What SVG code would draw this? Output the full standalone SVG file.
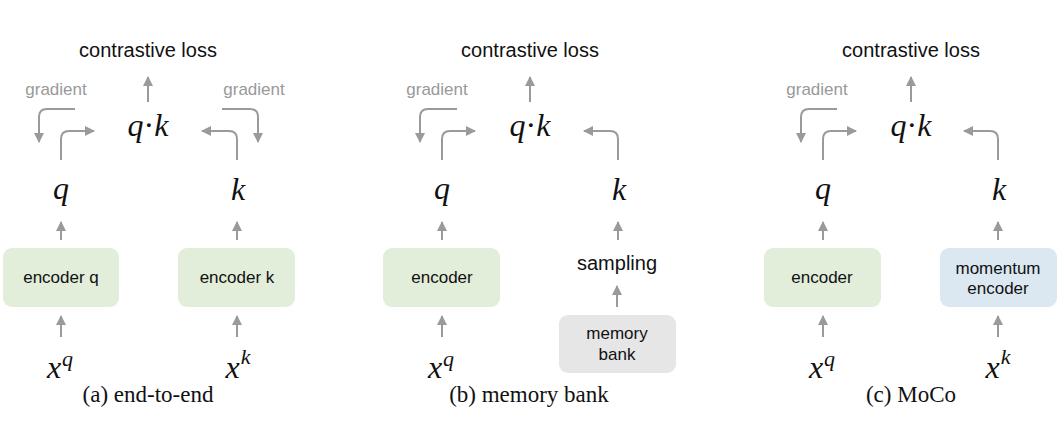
<svg xmlns="http://www.w3.org/2000/svg" width="1060" height="444" viewBox="0 0 1060 444">
<style>
.sans{font-family:"Liberation Sans",Arial,sans-serif;fill:#111;text-anchor:middle}
.big{font-size:20px}
.box{font-size:17px}
.grad{font-family:"Liberation Sans",Arial,sans-serif;font-size:17px;fill:#999;text-anchor:middle}
.math{font-family:"Liberation Serif","Times New Roman",serif;font-style:italic;font-size:32px;fill:#111;text-anchor:middle}
.sup{font-size:22px}
.cap{font-family:"Liberation Serif","Times New Roman",serif;font-size:23px;fill:#111;text-anchor:middle}
.arr{fill:none;stroke:#9a9a9a;stroke-width:2;marker-end:url(#ah)}
.green{fill:#e2edda}
.gray{fill:#e6e6e6}
.blue{fill:#dbe7f1}
</style>
<defs>
<marker id="ah" markerUnits="userSpaceOnUse" markerWidth="11" markerHeight="11" refX="9" refY="5" orient="auto">
<path d="M0,0 L10,5 L0,10 z" fill="#9a9a9a"/>
</marker>
</defs>

<g id="connectors">
<path class="arr" d="M148,102 V77"/>
<path class="arr" d="M75,109 H47 Q39,109 39,117 V142"/>
<path class="arr" d="M61,160 V139 Q61,131 69,131 H94"/>
<path class="arr" d="M237,160 V139 Q237,131 229,131 H202"/>
<path class="arr" d="M222,109 H250 Q258,109 258,117 V142"/>
<path class="arr" d="M61,240 V222"/>
<path class="arr" d="M237,240 V222"/>
<path class="arr" d="M61,337 V316"/>
<path class="arr" d="M237,337 V316"/>
<path class="arr" d="M530,102 V77"/>
<path class="arr" d="M457,109 H428 Q420,109 420,117 V142"/>
<path class="arr" d="M442,160 V139 Q442,131 450,131 H475"/>
<path class="arr" d="M618,160 V139 Q618,131 610,131 H584"/>
<path class="arr" d="M442,240 V222"/>
<path class="arr" d="M618,240 V222"/>
<path class="arr" d="M442,337 V316"/>
<path class="arr" d="M617,307 V286"/>
<path class="arr" d="M911,102 V77"/>
<path class="arr" d="M837,109 H809 Q801,109 801,117 V142"/>
<path class="arr" d="M823,160 V139 Q823,131 831,131 H856"/>
<path class="arr" d="M998,160 V139 Q998,131 990,131 H964"/>
<path class="arr" d="M823,240 V222"/>
<path class="arr" d="M998,240 V222"/>
<path class="arr" d="M823,337 V316"/>
<path class="arr" d="M998,337 V316"/>
</g>

<g id="a-loss"><text class="sans big" x="148" y="57">contrastive loss</text></g>
<g id="a-grad-l"><text class="grad" x="56" y="95">gradient</text></g>
<g id="a-grad-r"><text class="grad" x="254" y="95">gradient</text></g>
<g id="a-qk"><text class="math" x="148" y="136">q<tspan font-style="normal">·</tspan>k</text></g>
<g id="a-q"><text class="math" x="61" y="199">q</text></g>
<g id="a-k"><text class="math" x="238" y="200">k</text></g>
<g id="a-encq"><rect class="green" x="3" y="248" width="116" height="59" rx="9"/><text class="sans box" x="61" y="283">encoder q</text></g>
<g id="a-enck"><rect class="green" x="178" y="248" width="117" height="59" rx="9"/><text class="sans box" x="237" y="283">encoder k</text></g>
<g id="a-xq"><text class="math" x="60" y="378">x<tspan class="sup" dy="-12" dx="1">q</tspan></text></g>
<g id="a-xk"><text class="math" x="238" y="378">x<tspan class="sup" dy="-14" dx="1">k</tspan></text></g>
<g id="a-cap"><text class="cap" x="148" y="402">(a) end-to-end</text></g>

<g id="b-loss"><text class="sans big" x="530" y="57">contrastive loss</text></g>
<g id="b-grad"><text class="grad" x="437" y="95">gradient</text></g>
<g id="b-qk"><text class="math" x="530" y="136">q<tspan font-style="normal">·</tspan>k</text></g>
<g id="b-q"><text class="math" x="442" y="199">q</text></g>
<g id="b-k"><text class="math" x="619" y="200">k</text></g>
<g id="b-enc"><rect class="green" x="383" y="248" width="117" height="59" rx="9"/><text class="sans box" x="442" y="283">encoder</text></g>
<g id="b-sampling"><text class="sans big" x="617" y="270">sampling</text></g>
<g id="b-bank"><rect class="gray" x="559" y="315" width="117" height="58" rx="9"/><text class="sans box" x="617" y="339">memory</text><text class="sans box" x="617" y="360">bank</text></g>
<g id="b-xq"><text class="math" x="441" y="378">x<tspan class="sup" dy="-12" dx="1">q</tspan></text></g>
<g id="b-cap"><text class="cap" x="529" y="402">(b) memory bank</text></g>

<g id="c-loss"><text class="sans big" x="911" y="57">contrastive loss</text></g>
<g id="c-grad"><text class="grad" x="817" y="95">gradient</text></g>
<g id="c-qk"><text class="math" x="911" y="136">q<tspan font-style="normal">·</tspan>k</text></g>
<g id="c-q"><text class="math" x="823" y="199">q</text></g>
<g id="c-k"><text class="math" x="999" y="200">k</text></g>
<g id="c-enc"><rect class="green" x="764" y="248" width="117" height="59" rx="9"/><text class="sans box" x="822" y="283">encoder</text></g>
<g id="c-momenc"><rect class="blue" x="940" y="248" width="117" height="59" rx="9"/><text class="sans box" x="998" y="274">momentum</text><text class="sans box" x="998" y="294">encoder</text></g>
<g id="c-xq"><text class="math" x="822" y="378">x<tspan class="sup" dy="-12" dx="1">q</tspan></text></g>
<g id="c-xk"><text class="math" x="998" y="378">x<tspan class="sup" dy="-14" dx="1">k</tspan></text></g>
<g id="c-cap"><text class="cap" x="911" y="402">(c) MoCo</text></g>
</svg>
